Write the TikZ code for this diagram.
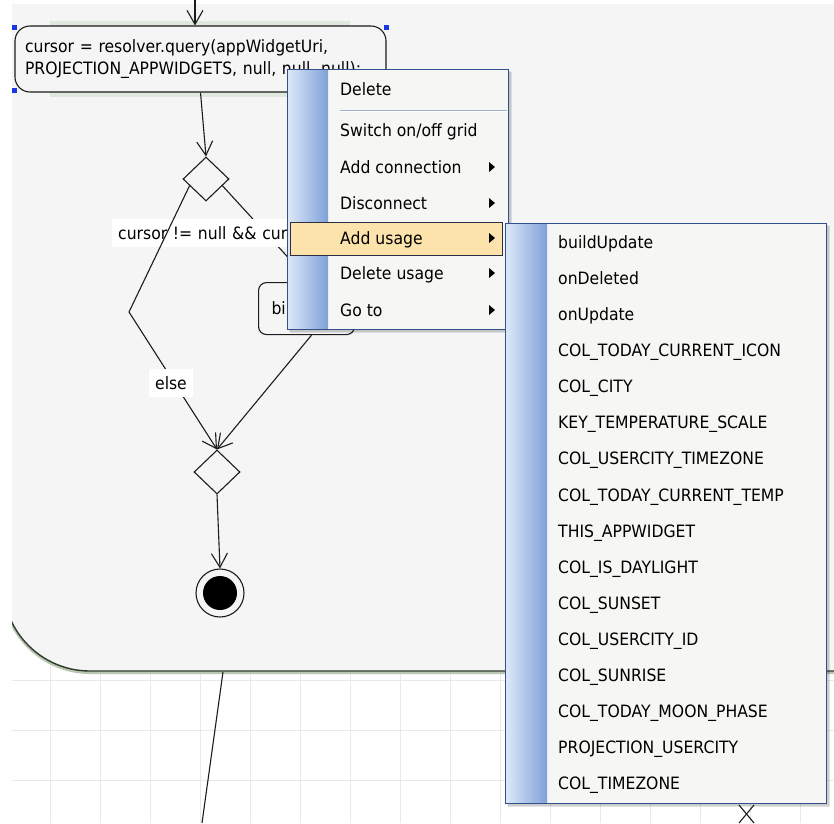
\documentclass[tikz,border=0pt]{standalone}
\usepackage{fontspec}
\newfontfamily\uifont[FakeStretch=0.92]{DejaVu Sans}
\usetikzlibrary{arrows.meta,shapes.geometric,calc}

\definecolor{gridc}{HTML}{E9E9E9}
\definecolor{panel}{HTML}{F5F5F5}
\definecolor{ink}{HTML}{1C1C1C}
\definecolor{frame}{HTML}{2E3A2E}
\definecolor{halo}{HTML}{B9C7B2}
\definecolor{boxglow}{HTML}{E0E7DC}
\definecolor{menubg}{HTML}{F6F6F4}
\definecolor{menuedge}{HTML}{34508A}
\definecolor{stripL}{HTML}{DCE8F8}
\definecolor{stripR}{HTML}{7FA0D8}
\definecolor{hilite}{HTML}{FCE3AC}
\definecolor{hiedge}{HTML}{2A2F45}
\definecolor{handleblue}{HTML}{1B36E6}
\definecolor{sepc}{HTML}{9DB0D0}

\tikzset{
  ui/.style={font=\uifont\fontsize{17}{22}\selectfont},
  gridline/.style={draw=gridc, line width=1pt},
  wire/.style={draw=ink, line width=1.1pt},
  flow/.style={wire, -{Straight Barb[length=14pt,width=16pt]}},
  selhandle/.style={rectangle, fill=handleblue, minimum size=5pt, inner sep=0pt},
  decision/.style={diamond, draw=ink, line width=1.1pt, fill=panel,
    minimum width=46pt, minimum height=44pt, inner sep=0pt},
  lbl/.style={fill=white, inner xsep=6pt, inner ysep=7pt, ui},
  mitem/.style={anchor=base west, inner sep=0pt, ui},
  menubox/.style={rectangle, draw=menuedge, line width=1.2pt, fill=menubg,
    anchor=north west, inner sep=0pt},
}

\begin{document}
\begin{tikzpicture}[x=1pt,y=-1pt]
\useasboundingbox (0,0) rectangle (834,823);
\fill[white] (0,0) rectangle (834,823);

% canvas grid and the enclosing activity frame
\begin{scope}
  \clip (12,4) rectangle (834,823);
  \foreach \gx in {50,100,...,800} \draw[gridline] (\gx,4) -- (\gx,823);
  \foreach \gy in {30,80,...,780} \draw[gridline] (12,\gy) -- (834,\gy);
  \draw[halo, line width=3pt, rounded corners=87pt] (3,-400) rectangle (1200,672.5);
  \draw[frame, line width=1.4pt, fill=panel, rounded corners=87pt] (3,-400) rectangle (1200,671);
\end{scope}

% leaving edge below the frame
\coordinate (exitTop) at (223,672);
\coordinate (exitBot) at (202,823);
\draw[wire] (exitTop) -- (exitBot);
\coordinate (xa) at (739,805);
\coordinate (xb) at (754,823);
\coordinate (xc) at (754,805);
\coordinate (xd) at (739,823);
\draw[wire] (xa) -- (xb);
\draw[wire] (xc) -- (xd);

% query action (selected)
\fill[boxglow] (50,21) rectangle (350,97);
\node[rectangle, rounded corners=15pt, draw=ink, line width=1.1pt, fill=panel,
      minimum width=371pt, minimum height=66pt, inner xsep=10pt,
      text width=351pt, align=left, ui] (query) at (200.5,59)
  {cursor = resolver.query(appWidgetUri,\\PROJECTION\_APPWIDGETS, null, null, null);};
\node[selhandle] (h1) at (14,27) {};
\node[selhandle] (h2) at (14,90) {};
\node[selhandle] (h3) at (386,27) {};
\node[selhandle] (h4) at (386,90) {};

\coordinate (entry) at (195,0);
\draw[flow] (entry) -- (entry |- query.north);

% decisions, action and final node
\node[decision] (split) at (206,179) {};
\node[decision] (merge) at (217,472) {};
\node[rectangle, rounded corners=8pt, draw=ink, line width=1.1pt, fill=panel,
      anchor=north west, minimum width=96pt, minimum height=52pt,
      inner xsep=13pt, text width=70pt, align=left, ui] (build) at (258,282) {bi};
\node[circle, draw=ink, line width=1.1pt, fill=panel, minimum size=48pt, inner sep=0pt] (final) at (220,593) {};
\node[circle, fill=black, minimum size=34pt, inner sep=0pt] (finaldot) at (final.center) {};

\coordinate (splitL) at ($(split.west)!0.3!(split.south)$);
\coordinate (splitR) at ($(split.east)!0.3!(split.south)$);
\coordinate (bend) at (129,312);
\coordinate (buildIn) at ($(build.north)+(4,0)$);
\coordinate (buildOut) at ($(build.south)+(5,0)$);

\draw[flow] (query.south) -- (split.north);
\draw[flow] (splitR) -- (buildIn);
\node[lbl, anchor=west, text width=180pt, align=left] (guard) at (112,233) {cursor != null \&\& curs};
\draw[flow] (splitL) -- (bend) -- (merge.north);
\node[lbl] (elsel) at (171,383) {else};
\draw[flow] (buildOut) -- (merge.north);
\draw[flow] (merge.south) -- (final.north);

% context menu
\fill[black, opacity=0.10] (290,72) rectangle (512,333);
\fill[black, opacity=0.10] (289,71) rectangle (511,332);
\node[menubox, minimum width=221pt, minimum height=260pt] (menu) at (287,69) {};
\shade[left color=stripL, right color=stripR] (288,70) rectangle (328,328);
\draw[sepc, line width=1pt] (340,110) -- (507,110);
\draw[white, line width=1pt] (340,111.2) -- (507,111.2);
\node[rectangle, draw=hiedge, fill=hilite, line width=1pt, anchor=north west,
      minimum width=212pt, minimum height=33pt, inner sep=0pt] (hl) at (290,222) {};

\node[mitem] (m1) at (340,95.5) {Delete};
\node[mitem] (m2) at (340,136.5) {Switch on/off grid};
\node[mitem] (m3) at (340,173.5) {Add connection};
\node[mitem] (m4) at (340,209.5) {Disconnect};
\node[mitem] (m5) at (340,244.5) {Add usage};
\node[mitem] (m6) at (340,279.5) {Delete usage};
\node[mitem] (m7) at (340,316.5) {Go to};
\foreach \cy in {167,203,238,273,310}
  \fill[black] (489,\cy-5) -- (495,\cy) -- (489,\cy+5) -- cycle;

% submenu
\fill[black, opacity=0.10] (508,226) rectangle (830,807);
\fill[black, opacity=0.10] (507,225) rectangle (829,806);
\node[menubox, minimum width=321pt, minimum height=580pt] (submenu) at (505,223) {};
\shade[left color=stripL, right color=stripR] (506,224) rectangle (547,802);
\foreach \t [count=\i] in {buildUpdate, onDeleted, onUpdate, COL\_TODAY\_CURRENT\_ICON,
    COL\_CITY, KEY\_TEMPERATURE\_SCALE, COL\_USERCITY\_TIMEZONE, COL\_TODAY\_CURRENT\_TEMP,
    THIS\_APPWIDGET, COL\_IS\_DAYLIGHT, COL\_SUNSET, COL\_USERCITY\_ID, COL\_SUNRISE,
    COL\_TODAY\_MOON\_PHASE, PROJECTION\_USERCITY, COL\_TIMEZONE} {
  \pgfmathsetmacro\yy{248.5+36.07*(\i-1)}
  \node[mitem] (s\i) at (558,\yy) {\t};
}
\end{tikzpicture}
\end{document}
